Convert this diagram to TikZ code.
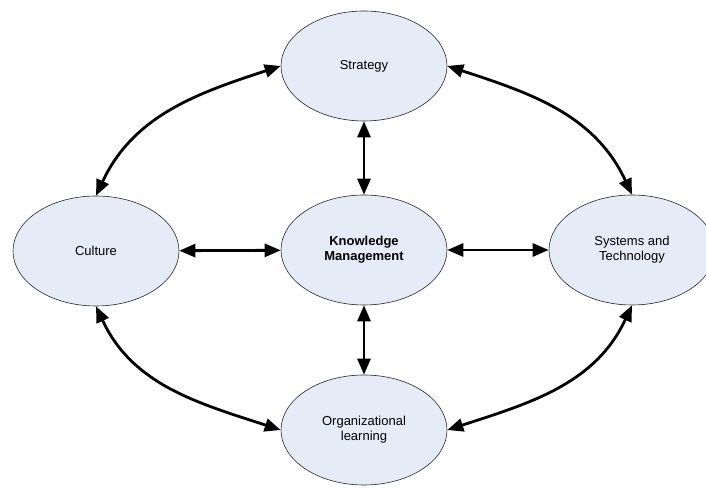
\documentclass[tikz,border=0pt]{standalone}
\usepackage{fontspec}
\setmainfont{Liberation Sans}
\usetikzlibrary{arrows.meta,shapes.geometric}

\definecolor{ellfill}{RGB}{230,236,247}

\begin{document}
\begin{tikzpicture}[x=1pt, y=1pt,
    area/.style ={ellipse, draw=black!85, line width=0.6pt, fill=ellfill, inner sep = 0pt,
                  minimum width=166pt, minimum height=110pt, align=center,
                  font=\fontsize{13}{15}\selectfont},
    link/.style ={line width=2.8pt, {Triangle[length=16pt,width=13pt]}-{Triangle[length=16pt,width=13pt]}}]
   \useasboundingbox (0,0) rectangle (706,489);
   \node[area] (S)   at (364,423) {Strategy};
   \node[area] (C)   at (96,238)  {Culture};
   \node[area] (KM)  at (364,239) {\textbf{Knowledge}\\\textbf{Management}};
   \node[area] (T)   at (632,239) {Systems and\\Technology};
   \node[area] (O)   at (364,59)  {Organizational\\learning};

   % spokes
   \draw[link] (C)  to (KM);
   \draw[link] (KM) to (T);
   \draw[link] (KM) to (S);
   \draw[link] (KM) to (O);

   % outer ring
   \draw[link] (C.north) to[out=65, in=198]  (S.west);
   \draw[link] (S.east)  to[out=-18, in=115] (T.north);
   \draw[link] (C.south) to[out=-65, in=162] (O.west);
   \draw[link] (T.south) to[out=-115, in=18] (O.east);
 \end{tikzpicture}
\end{document}
